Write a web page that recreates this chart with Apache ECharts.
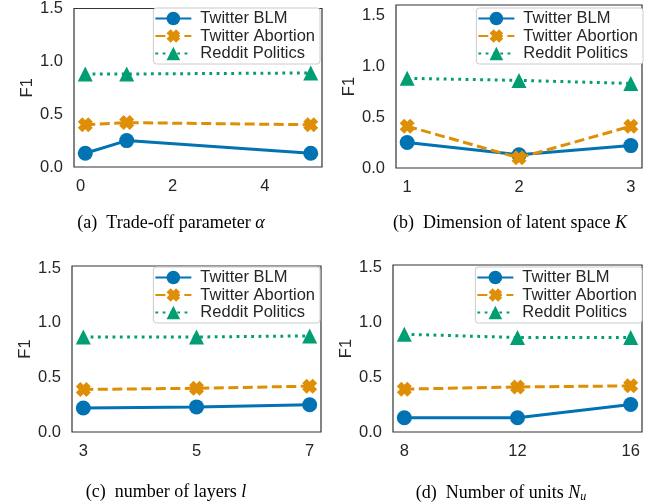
<!DOCTYPE html>
<html>
<head>
<meta charset="utf-8">
<script src="https://cdn.jsdelivr.net/npm/echarts@6/dist/echarts.min.js"></script>
<style>
html,body{margin:0;padding:0;background:#fff;}
#chart{width:667px;height:502px;}
</style>
</head>
<body>
<div id="chart"></div>
<script>
// ---- data ----
var seriesNames = ['Twitter BLM', 'Twitter Abortion', 'Reddit Politics'];

var xAlpha = [0.1, 1, 5];
var blmAlpha = [0.13, 0.25, 0.13];
var abortAlpha = [0.40, 0.42, 0.40];
var redditAlpha = [0.88, 0.88, 0.89];

var xK = [1, 2, 3];
var blmK = [0.25, 0.13, 0.22];
var abortK = [0.41, 0.10, 0.41];
var redditK = [0.88, 0.86, 0.83];

var xLayers = [3, 5, 7];
var blmLayers = [0.22, 0.23, 0.25];
var abortLayers = [0.39, 0.40, 0.42];
var redditLayers = [0.87, 0.87, 0.88];

var xUnits = [8, 12, 16];
var blmUnits = [0.13, 0.13, 0.25];
var abortUnits = [0.39, 0.41, 0.42];
var redditUnits = [0.89, 0.86, 0.86];

var xTicksAlpha = [0, 2, 4];
var xTicksK = [1, 2, 3];
var xTicksLayers = [3, 5, 7];
var xTicksUnits = [8, 12, 16];
var yTicks = [0, 0.5, 1.0, 1.5];

var captions = ['(a)  Trade-off parameter {i|α}', '(b)  Dimension of latent space {i|K}',
                '(c)  number of layers {i|l}', '(d)  Number of units {i|N}{s|u}'];

// ---- layout / style ----
var colors = ['#0173b2', '#de8f05', '#029e73'];
var XPATH = 'path://M0,3 L3,0 L5,2 L7,0 L10,3 L8,5 L10,7 L7,10 L5,8 L3,10 L0,7 L2,5 Z';
var symbols = ['circle', XPATH, 'triangle'];
var symbolSizes = [15, 15, 15];
var lineTypes = ['solid', [10, 4.5], [2.8, 4.5]];

var panels = [
  {x: xAlpha, ys: [blmAlpha, abortAlpha, redditAlpha], xt: xTicksAlpha, xmin: -0.145, xmax: 5.245, ymax: 1.5,
   grid: {left: 74, top: 7, width: 248, height: 160}, legendRight: 347, legendTop: 8, cap: [171, 214]},
  {x: xK, ys: [blmK, abortK, redditK], xt: xTicksK, xmin: 0.9, xmax: 3.1, ymax: 1.6,
   grid: {left: 396, top: 5, width: 246, height: 163}, legendRight: 24, legendTop: 8, cap: [510, 214]},
  {x: xLayers, ys: [blmLayers, abortLayers, redditLayers], xt: xTicksLayers, xmin: 2.8, xmax: 7.2, ymax: 1.52,
   grid: {left: 72, top: 266, width: 249, height: 166}, legendRight: 347, legendTop: 267, cap: [166, 483]},
  {x: xUnits, ys: [blmUnits, abortUnits, redditUnits], xt: xTicksUnits, xmin: 7.6, xmax: 16.4, ymax: 1.52,
   grid: {left: 393, top: 265, width: 249, height: 167}, legendRight: 25, legendTop: 267, cap: [501, 483]}
];

var sansFont = 'Liberation Sans';
var serifFont = 'Liberation Serif';
var textColor = '#262626';
var fs = 16.5;

var grids = [], xAxes = [], yAxes = [], series = [], legends = [], titles = [];
panels.forEach(function (p, pi) {
  grids.push(Object.assign({show: true, borderColor: '#333', borderWidth: 1.2, backgroundColor: '#fff', containLabel: false}, p.grid));
  xAxes.push({
    type: 'value', gridIndex: pi, min: p.xmin, max: p.xmax,
    axisLine: {show: false}, axisTick: {show: false}, splitLine: {show: false},
    axisLabel: {customValues: p.xt, color: textColor, fontFamily: sansFont, fontSize: fs, margin: 11,
      showMinLabel: true, showMaxLabel: true}
  });
  yAxes.push({
    type: 'value', gridIndex: pi, min: 0, max: p.ymax,
    name: 'F1', nameLocation: 'middle', nameGap: 38, nameRotate: 90,
    nameTextStyle: {color: textColor, fontFamily: sansFont, fontSize: fs},
    axisLine: {show: false}, axisTick: {show: false}, splitLine: {show: false},
    axisLabel: {customValues: yTicks, color: textColor, fontFamily: sansFont, fontSize: fs, margin: 11,
      formatter: function (v) { return v.toFixed(1); }}
  });
  for (var s = 0; s < 3; s++) {
    series.push({
      type: 'line', name: seriesNames[s], xAxisIndex: pi, yAxisIndex: pi,
      data: p.x.map(function (xv, i) { return [xv, p.ys[s][i]]; }),
      symbol: symbols[s], symbolSize: symbolSizes[s], showSymbol: true,
      itemStyle: {color: colors[s], borderWidth: 0},
      lineStyle: {color: colors[s], width: 3, type: lineTypes[s], cap: 'butt'},
      emphasis: {disabled: true}, animation: false, z: 2 + s
    });
  }
  legends.push({
    data: seriesNames, orient: 'vertical', right: p.legendRight, top: p.legendTop,
    backgroundColor: '#fff', borderColor: '#ccc', borderWidth: 1, borderRadius: 3,
    padding: [2, 5, 2, 1], itemGap: 0.5, itemWidth: 36, itemHeight: 17,
    textStyle: {color: textColor, fontFamily: sansFont, fontSize: fs, padding: [0, 0, 0, 4]},
    selectedMode: false, z: 10
  });
  titles.push({
    text: captions[pi], left: p.cap[0], top: p.cap[1], textAlign: 'center', padding: 0,
    textStyle: {fontFamily: serifFont, fontSize: 18, fontWeight: 'normal', color: '#000',
      rich: {
        i: {fontFamily: serifFont, fontSize: 18, fontStyle: 'italic', color: '#000'},
        s: {fontFamily: serifFont, fontSize: 12, fontStyle: 'italic', color: '#000', padding: [8, 0, 0, 0]}
      }}
  });
});

var chart = echarts.init(document.getElementById('chart'), null, {renderer: 'canvas'});
chart.setOption({
  animation: false,
  backgroundColor: '#fff',
  title: titles,
  grid: grids,
  xAxis: xAxes,
  yAxis: yAxes,
  legend: legends,
  series: series
});
</script>
</body>
</html>
